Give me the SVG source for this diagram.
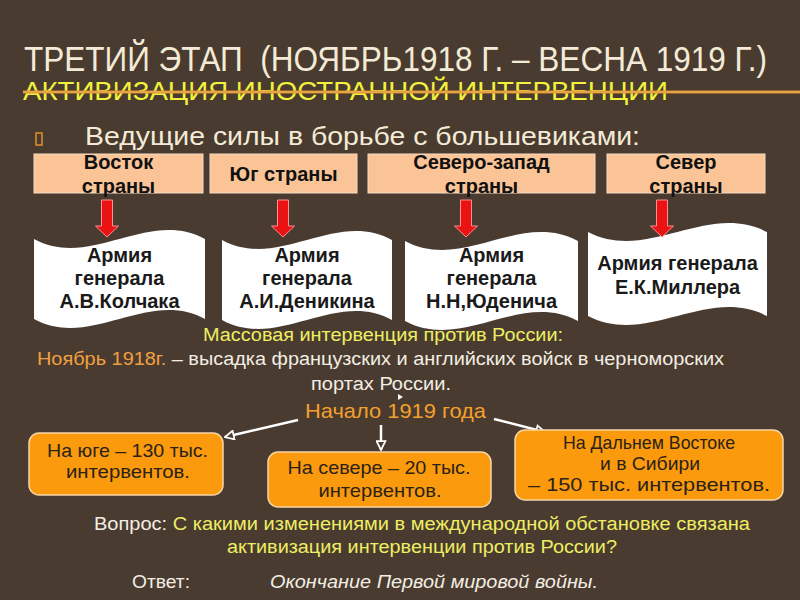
<svg xmlns="http://www.w3.org/2000/svg" width="800" height="600" viewBox="0 0 800 600">
<defs>
<style>
.t{font-family:"Liberation Sans",Arial,sans-serif}
.hdr{fill:#f4ebd6;font-size:32px}
.sub{fill:#f2f23c;font-size:26px}
.bul{fill:#f4ebd6;font-size:26px}
.box{fill:#fac497;stroke:#f6dcc0;stroke-width:1}
.bt{font-family:"Liberation Sans",Arial,sans-serif;font-weight:bold;font-size:20px;fill:#111;text-anchor:middle}
.scroll{fill:#ffffff}
.st{font-family:"Liberation Sans",Arial,sans-serif;font-weight:bold;font-size:20px;fill:#1a1a1a;text-anchor:middle}
.red{fill:#ea1212;stroke:#ff9090;stroke-width:1}
.ob{fill:#fa9a0c;stroke:#f6d6a6;stroke-width:1.5}
.ot{font-family:"Liberation Sans",Arial,sans-serif;font-size:19px;fill:#2a2218;text-anchor:middle}
.mid{font-family:"Liberation Sans",Arial,sans-serif;font-size:18px}
.conn{stroke:#ffffff;stroke-width:2.5;fill:none}
</style>
<marker id="ah" viewBox="0 0 10 10" refX="9" refY="5" markerWidth="11" markerHeight="11" markerUnits="userSpaceOnUse" orient="auto">
<path d="M1,1 L9,5 L1,9 Z" fill="#4a3b30" stroke="#ffffff" stroke-width="1.6"/>
</marker>
</defs>
<rect width="800" height="600" fill="#4a3b30"/>

<g id="title">
<text class="t hdr" transform="translate(24,71) scale(1,1.1)" x="0" y="0" textLength="743" lengthAdjust="spacingAndGlyphs" xml:space="preserve">ТРЕТИЙ ЭТАП  (НОЯБРЬ1918 Г. – ВЕСНА 1919 Г.)</text>
<text class="t sub" x="23" y="100" textLength="645" lengthAdjust="spacingAndGlyphs">АКТИВИЗАЦИЯ ИНОСТРАННОЙ ИНТЕРВЕНЦИИ</text>
<line x1="23" y1="92" x2="800" y2="92" stroke="#d8892a" stroke-width="3"/>
<line x1="23" y1="92" x2="800" y2="92" stroke="#f2c060" stroke-width="1"/>
</g>

<g id="bullet">
<rect x="36" y="133" width="6" height="12" fill="none" stroke="#e0922a" stroke-width="1.5"/>
<text class="t bul" x="85" y="145" textLength="555" lengthAdjust="spacingAndGlyphs">Ведущие силы в борьбе с большевиками:</text>
</g>

<g id="box-east">
<rect class="box" x="34" y="154" width="169" height="39"/>
<text class="bt" x="118.5" y="169">Восток</text>
<text class="bt" x="118.5" y="193">страны</text>
</g>
<g id="box-south">
<rect class="box" x="210" y="154" width="147" height="39"/>
<text class="bt" x="283.5" y="181">Юг страны</text>
</g>
<g id="box-northwest">
<rect class="box" x="368" y="154" width="227" height="39"/>
<text class="bt" x="481.5" y="169">Северо-запад</text>
<text class="bt" x="481.5" y="193">страны</text>
</g>
<g id="box-north">
<rect class="box" x="607" y="154" width="158" height="39"/>
<text class="bt" x="686" y="169">Север</text>
<text class="bt" x="686" y="193">страны</text>
</g>

<g id="scroll-kolchak">
<path class="scroll" d="M34,239 C91,270 148,208 205,239 L205,319 C148,288 91,350 34,319 Z"/>
<text class="st" x="119.5" y="262">Армия</text>
<text class="st" x="119.5" y="285">генерала</text>
<text class="st" x="119.5" y="308">А.В.Колчака</text>
</g>
<g id="scroll-denikin">
<path class="scroll" d="M222,240 C279,271 335,209 392,240 L392,320 C335,289 279,351 222,320 Z"/>
<text class="st" x="307" y="262">Армия</text>
<text class="st" x="307" y="285">генерала</text>
<text class="st" x="307" y="308">А.И.Деникина</text>
</g>
<g id="scroll-yudenich">
<path class="scroll" d="M405,241 C463,272 520,210 578,241 L578,321 C520,290 463,352 405,321 Z"/>
<text class="st" x="491.5" y="262">Армия</text>
<text class="st" x="491.5" y="285">генерала</text>
<text class="st" x="491.5" y="308">Н.Н,Юденича</text>
</g>
<g id="scroll-miller">
<path class="scroll" d="M588,232 C648,263 707,201 767,232 L767,316 C707,285 648,347 588,316 Z"/>
<text class="st" x="677.5" y="270">Армия генерала</text>
<text class="st" x="677.5" y="294">Е.К.Миллера</text>
</g>

<g id="red-arrows">
<path class="red" d="M101.5,200 h11 v26 h6 l-11.5,11 l-11.5,-11 h6 Z"/>
<path class="red" d="M277.5,200 h11 v26 h6 l-11.5,11 l-11.5,-11 h6 Z"/>
<path class="red" d="M460.5,200 h11 v26 h6 l-11.5,11 l-11.5,-11 h6 Z"/>
<path class="red" d="M656.5,200 h11 v26 h6 l-11.5,11 l-11.5,-11 h6 Z"/>
</g>

<g id="intervention-text">
<text class="mid" x="203" y="341" fill="#eeee62" textLength="360" lengthAdjust="spacingAndGlyphs">Массовая интервенция против России:</text>
<text class="mid" x="37" y="365" textLength="687" lengthAdjust="spacingAndGlyphs"><tspan fill="#f0a040">Ноябрь 1918г.</tspan><tspan fill="#f2eee4"> – высадка французских и английских войск в черноморских</tspan></text>
<text class="mid" x="311" y="390" fill="#f2eee4" textLength="140" lengthAdjust="spacingAndGlyphs">портах России.</text>
<path d="M398,394 L403,397 L398,400 Z" fill="#ffffff"/>
</g>

<g id="start-1919">
<text class="t" x="305" y="418" font-size="21" fill="#f5a02c" textLength="181" lengthAdjust="spacingAndGlyphs">Начало 1919 года</text>
</g>

<g id="connectors">
<line class="conn" x1="298" y1="420" x2="225" y2="437" marker-end="url(#ah)"/>
<line class="conn" x1="381" y1="425" x2="381" y2="450" marker-end="url(#ah)"/>
<line class="conn" x1="494" y1="419" x2="545" y2="432" marker-end="url(#ah)"/>
</g>

<g id="box-south-130">
<rect class="ob" x="29" y="433" width="194" height="62" rx="10"/>
<text class="ot" x="127.5" y="457" textLength="161" lengthAdjust="spacingAndGlyphs">На юге – 130 тыс.</text>
<text class="ot" x="128" y="478" textLength="124" lengthAdjust="spacingAndGlyphs">интервентов.</text>
</g>
<g id="box-north-20">
<rect class="ob" x="268" y="452" width="223" height="55" rx="10"/>
<text class="ot" x="379" y="474" textLength="183" lengthAdjust="spacingAndGlyphs">На севере – 20 тыс.</text>
<text class="ot" x="380" y="497" textLength="123" lengthAdjust="spacingAndGlyphs">интервентов.</text>
</g>
<g id="box-east-150">
<rect class="ob" x="515" y="430" width="268" height="70" rx="10"/>
<text class="ot" x="649" y="449" textLength="172" lengthAdjust="spacingAndGlyphs">На Дальнем Востоке</text>
<text class="ot" x="650" y="470" textLength="100" lengthAdjust="spacingAndGlyphs">и в Сибири</text>
<text class="ot" x="649" y="491" textLength="242" lengthAdjust="spacingAndGlyphs">– 150 тыс. интервентов.</text>
</g>

<g id="question">
<text class="mid" x="94" y="530" textLength="656" lengthAdjust="spacingAndGlyphs"><tspan fill="#f2eee4">Вопрос: </tspan><tspan fill="#eeee62">С какими изменениями в международной обстановке связана</tspan></text>
<text class="mid" x="227" y="553" fill="#eeee62" textLength="390" lengthAdjust="spacingAndGlyphs">активизация интервенции против России?</text>
<text class="mid" x="132" y="588" fill="#f2eee4" textLength="58" lengthAdjust="spacingAndGlyphs">Ответ:</text>
<text class="mid" x="270" y="588" fill="#f2eee4" font-style="italic" textLength="328" lengthAdjust="spacingAndGlyphs">Окончание Первой мировой войны.</text>
</g>
</svg>
